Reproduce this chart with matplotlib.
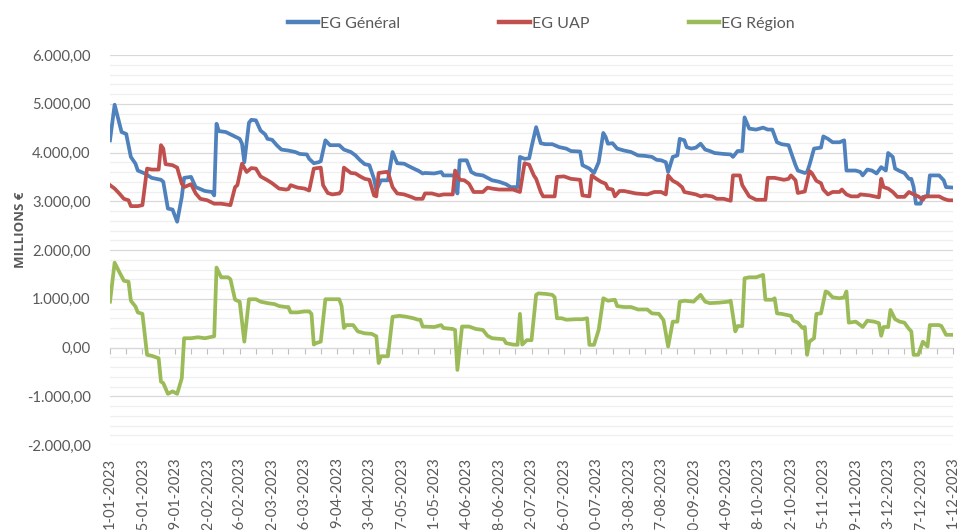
"""EG Général / UAP / Région daily balances, 2023"""

from datetime import date, timedelta
import matplotlib
matplotlib.use("Agg")
import matplotlib.pyplot as plt
from matplotlib.ticker import FuncFormatter, MultipleLocator

START = date(2023, 1, 1)

# day offset from 1-01-2023, value in millions of euro
general_days = [0, 2, 5, 7, 9, 11, 12, 15, 18, 22, 23, 25, 27, 29, 31, 32, 35, 37, 39, 41,
                44, 45, 46, 47, 50, 53, 56, 57, 58, 60, 61, 63, 65, 67, 68, 70, 72, 74, 77, 80,
                82, 85, 86, 88, 90, 91, 93, 95, 99, 101, 104, 106, 108, 110, 112, 114, 115, 117, 120, 122,
                124, 127, 129, 132, 133, 135, 136, 140, 143, 144, 148, 149, 150, 151, 154, 156, 158, 161, 165, 168,
                171, 173, 176, 177, 179, 181, 182, 184, 186, 188, 191, 194, 197, 199, 203, 204, 207, 209, 211, 213,
                214, 215, 217, 219, 222, 225, 228, 231, 234, 236, 238, 240, 241, 243, 245, 246, 248, 249, 251, 253,
                255, 257, 259, 261, 265, 268, 269, 271, 273, 274, 276, 279, 282, 284, 286, 288, 290, 293, 294, 296,
                297, 300, 301, 302, 304, 307, 308, 310, 312, 315, 317, 318, 322, 324, 325, 327, 329, 331, 333, 335,
                336, 338, 339, 341, 343, 345, 346, 347, 348, 350, 351, 353, 354, 358, 360, 361, 364]
general_vals = [4250, 4980, 4420, 4380, 3910, 3770, 3630, 3570, 3480, 3440, 3400, 2850, 2830, 2580, 3090, 3480, 3500, 3290, 3250, 3210,
                3190, 3120, 4590, 4440, 4420, 4350, 4280, 4180, 3800, 4610, 4670, 4660, 4450, 4370, 4280, 4260, 4150, 4060, 4040, 4010,
                3970, 3960, 3870, 3780, 3800, 3820, 4250, 4150, 4150, 4060, 4010, 3940, 3840, 3760, 3740, 3460, 3220, 3430, 3430, 4010,
                3780, 3770, 3720, 3650, 3630, 3570, 3580, 3570, 3600, 3530, 3530, 3510, 3160, 3840, 3840, 3600, 3550, 3530, 3430, 3400,
                3350, 3290, 3290, 3910, 3870, 3880, 4110, 4520, 4190, 4170, 4170, 4110, 4080, 4030, 4020, 3740, 3670, 3580, 3800, 4400,
                4320, 4180, 4190, 4080, 4040, 4010, 3940, 3930, 3910, 3850, 3840, 3800, 3600, 3910, 3940, 4280, 4250, 4110, 4080, 4100,
                4180, 4060, 4030, 3990, 3970, 3960, 3910, 4030, 4030, 4720, 4490, 4470, 4510, 4470, 4470, 4210, 4170, 4150, 4010, 3740,
                3630, 3580, 3600, 3740, 4080, 4100, 4330, 4280, 4210, 4210, 4250, 3630, 3630, 3600, 3530, 3650, 3630, 3570, 3700, 3630,
                3990, 3910, 3670, 3620, 3580, 3460, 3460, 3290, 2950, 2950, 3090, 3100, 3530, 3530, 3430, 3290, 3280]

uap_days = [0, 2, 4, 6, 8, 9, 12, 14, 16, 18, 21, 22, 23, 24, 27, 29, 31, 32, 35, 37,
            39, 42, 45, 48, 52, 54, 55, 57, 59, 61, 63, 65, 68, 70, 73, 76, 77, 78, 81, 84,
            86, 88, 91, 92, 94, 96, 99, 100, 101, 104, 106, 108, 110, 112, 114, 115, 116, 119, 120, 122,
            124, 127, 130, 132, 135, 136, 139, 142, 144, 148, 149, 151, 153, 155, 157, 161, 163, 165, 168, 174,
            177, 179, 181, 183, 184, 186, 187, 192, 193, 196, 199, 203, 204, 207, 208, 210, 212, 214, 215, 217,
            218, 220, 222, 227, 232, 235, 238, 240, 241, 243, 245, 247, 248, 250, 253, 255, 257, 260, 262, 265,
            268, 269, 272, 273, 276, 279, 283, 284, 287, 291, 293, 294, 296, 297, 300, 302, 303, 305, 307, 308,
            310, 312, 315, 316, 318, 320, 323, 324, 328, 330, 332, 333, 334, 336, 338, 340, 343, 345, 347, 349,
            351, 352, 355, 358, 360, 362, 364]
uap_vals = [3330, 3260, 3160, 3050, 3020, 2900, 2900, 2920, 3670, 3650, 3650, 4150, 4080, 3760, 3740, 3690, 3360, 3290, 3350, 3160,
            3050, 3020, 2950, 2950, 2920, 3290, 3330, 3770, 3600, 3680, 3670, 3510, 3430, 3370, 3260, 3240, 3250, 3330, 3280, 3260,
            3220, 3670, 3690, 3330, 3170, 3140, 3160, 3220, 3690, 3580, 3570, 3510, 3460, 3440, 3120, 3100, 3580, 3600, 3600, 3290,
            3160, 3140, 3090, 3050, 3050, 3160, 3160, 3120, 3140, 3140, 3630, 3440, 3430, 3360, 3190, 3190, 3280, 3260, 3240, 3240,
            3190, 3780, 3750, 3530, 3460, 3190, 3100, 3100, 3500, 3510, 3460, 3440, 3120, 3100, 3530, 3460, 3400, 3360, 3260, 3240,
            3100, 3210, 3210, 3160, 3140, 3190, 3190, 3140, 3530, 3420, 3370, 3290, 3190, 3170, 3140, 3100, 3120, 3100, 3050, 3050,
            3010, 3530, 3530, 3330, 3100, 3030, 3030, 3480, 3480, 3440, 3460, 3530, 3430, 3170, 3200, 3620, 3580, 3420, 3370, 3240,
            3140, 3190, 3190, 3240, 3140, 3100, 3100, 3140, 3120, 3100, 3080, 3460, 3290, 3260, 3190, 3090, 3090, 3190, 3140, 3100,
            3030, 3100, 3100, 3100, 3050, 3020, 3020]

region_days = [0, 2, 4, 6, 8, 9, 11, 12, 14, 16, 18, 21, 22, 23, 25, 27, 29, 31, 32, 35,
               38, 41, 43, 45, 46, 48, 51, 52, 54, 56, 58, 60, 63, 65, 68, 71, 73, 76, 77, 78,
               81, 84, 86, 87, 88, 89, 91, 93, 99, 100, 101, 102, 105, 107, 110, 113, 115, 116, 117, 120,
               122, 125, 128, 131, 133, 134, 135, 140, 143, 144, 148, 149, 150, 152, 155, 158, 161, 163, 165, 170,
               171, 174, 176, 177, 178, 180, 182, 184, 185, 188, 191, 192, 193, 195, 197, 201, 204, 206, 207, 209,
               211, 213, 215, 218, 219, 222, 225, 228, 232, 234, 237, 239, 241, 243, 245, 246, 248, 252, 253, 255,
               257, 259, 263, 267, 268, 270, 271, 273, 274, 276, 279, 282, 283, 286, 287, 288, 290, 294, 295, 297,
               299, 300, 301, 302, 304, 305, 307, 309, 310, 312, 315, 317, 318, 319, 322, 324, 325, 327, 330, 332,
               333, 334, 336, 337, 339, 341, 343, 345, 346, 347, 349, 351, 353, 354, 358, 359, 361, 364]
region_vals = [940, 1740, 1550, 1370, 1350, 960, 840, 720, 690, -150, -170, -220, -700, -730, -950, -900, -950, -630, 190, 190,
               210, 190, 210, 230, 1640, 1440, 1440, 1400, 980, 940, 120, 990, 990, 940, 910, 890, 850, 830, 830, 720,
               720, 740, 740, 690, 60, 90, 120, 990, 990, 850, 400, 460, 460, 330, 290, 280, 230, -320, -180, -180,
               630, 650, 630, 600, 570, 570, 430, 420, 460, 400, 380, 360, -460, 430, 430, 380, 360, 240, 190, 170,
               90, 60, 55, 690, 60, 150, 150, 1080, 1110, 1100, 1080, 1030, 600, 600, 570, 580, 580, 600, 55, 55,
               360, 1010, 960, 980, 850, 830, 830, 780, 780, 700, 690, 560, 20, 530, 530, 940, 960, 940, 990, 1080,
               940, 910, 920, 940, 960, 330, 440, 440, 1420, 1440, 1440, 1490, 980, 980, 1010, 700, 690, 650, 550, 510,
               400, 420, -150, 120, 190, 690, 700, 1150, 1130, 1030, 1010, 1030, 1150, 510, 530, 460, 420, 550, 530, 500,
               240, 420, 420, 770, 580, 530, 510, 380, 330, -150, -150, 120, 20, 460, 460, 440, 260, 260]

SERIES = [
    ("EG Général", general_days, general_vals, "#4F81BD"),
    ("EG UAP", uap_days, uap_vals, "#C0504D"),
    ("EG Région", region_days, region_vals, "#9BBB59"),
]

TEXT_COLOR = "#595959"
FONT = ["Lato", "DejaVu Sans"]


def fr_number(v, _pos=None):
    """6000 -> 6.000,00"""
    s = f"{v:,.2f}"
    return s.replace(",", " ").replace(".", ",").replace(" ", ".")


def day_label(d, _pos=None):
    day = START + timedelta(days=int(round(d)))
    return f"{day.day}-{day.month:02d}-{day.year}"


plt.rcParams["font.family"] = FONT

fig = plt.figure(figsize=(9.58, 5.30), dpi=100)
ax = fig.add_axes([110 / 958, 1 - 445 / 530, 843 / 958, 390 / 530])

for label, days, vals, color in SERIES:
    ax.plot(days, vals, color=color, lw=2.7, label=label, solid_joinstyle="round", zorder=3)

ax.set_xlim(0, 364)
ax.set_ylim(-2000, 6000)

# horizontal grid: major every 1000, minor every 200
ax.yaxis.set_major_locator(MultipleLocator(1000))
ax.yaxis.set_minor_locator(MultipleLocator(200))
ax.yaxis.set_major_formatter(FuncFormatter(fr_number))
ax.grid(axis="y", which="major", color="#d9d9d9", lw=0.9, zorder=0)
ax.grid(axis="y", which="minor", color="#efefef", lw=0.9, zorder=0)
ax.tick_params(axis="y", which="both", length=0, labelsize=10.7, labelcolor=TEXT_COLOR, pad=14)

for side in ("top", "right", "left"):
    ax.spines[side].set_visible(False)

# category axis line at zero with weekly tick marks
ax.spines["bottom"].set_position(("data", 0))
ax.spines["bottom"].set_color("#bfbfbf")
ax.spines["bottom"].set_zorder(1)
ax.set_xticks(range(0, 365, 7))
ax.tick_params(axis="x", which="major", direction="out", length=4, color="#bfbfbf",
               labelbottom=False)

# date labels every two weeks at the bottom of the plot
sec = ax.secondary_xaxis("bottom")
sec.spines["bottom"].set_visible(False)
sec.set_xticks(range(0, 365, 14))
sec.xaxis.set_major_formatter(FuncFormatter(day_label))
sec.tick_params(axis="x", length=0, pad=9, labelsize=10.7, labelcolor=TEXT_COLOR, labelrotation=90)

fig.text(21 / 958, 1 - 230 / 530, "MILLIONS €", rotation=90, ha="center", va="center",
         fontsize=9.5, fontweight="bold", color=TEXT_COLOR, family=["Open Sans", "DejaVu Sans"])

leg = fig.legend(loc="center", bbox_to_anchor=(0.565, 1 - 24 / 530), ncol=3, frameon=False,
                 fontsize=11.5, handlelength=1.9, handletextpad=0.15, columnspacing=6.2)
for text in leg.get_texts():
    text.set_color(TEXT_COLOR)
for line in leg.get_lines():
    line.set_linewidth(3.2)

fig.savefig("out.png", dpi=100)
plt.close(fig)
